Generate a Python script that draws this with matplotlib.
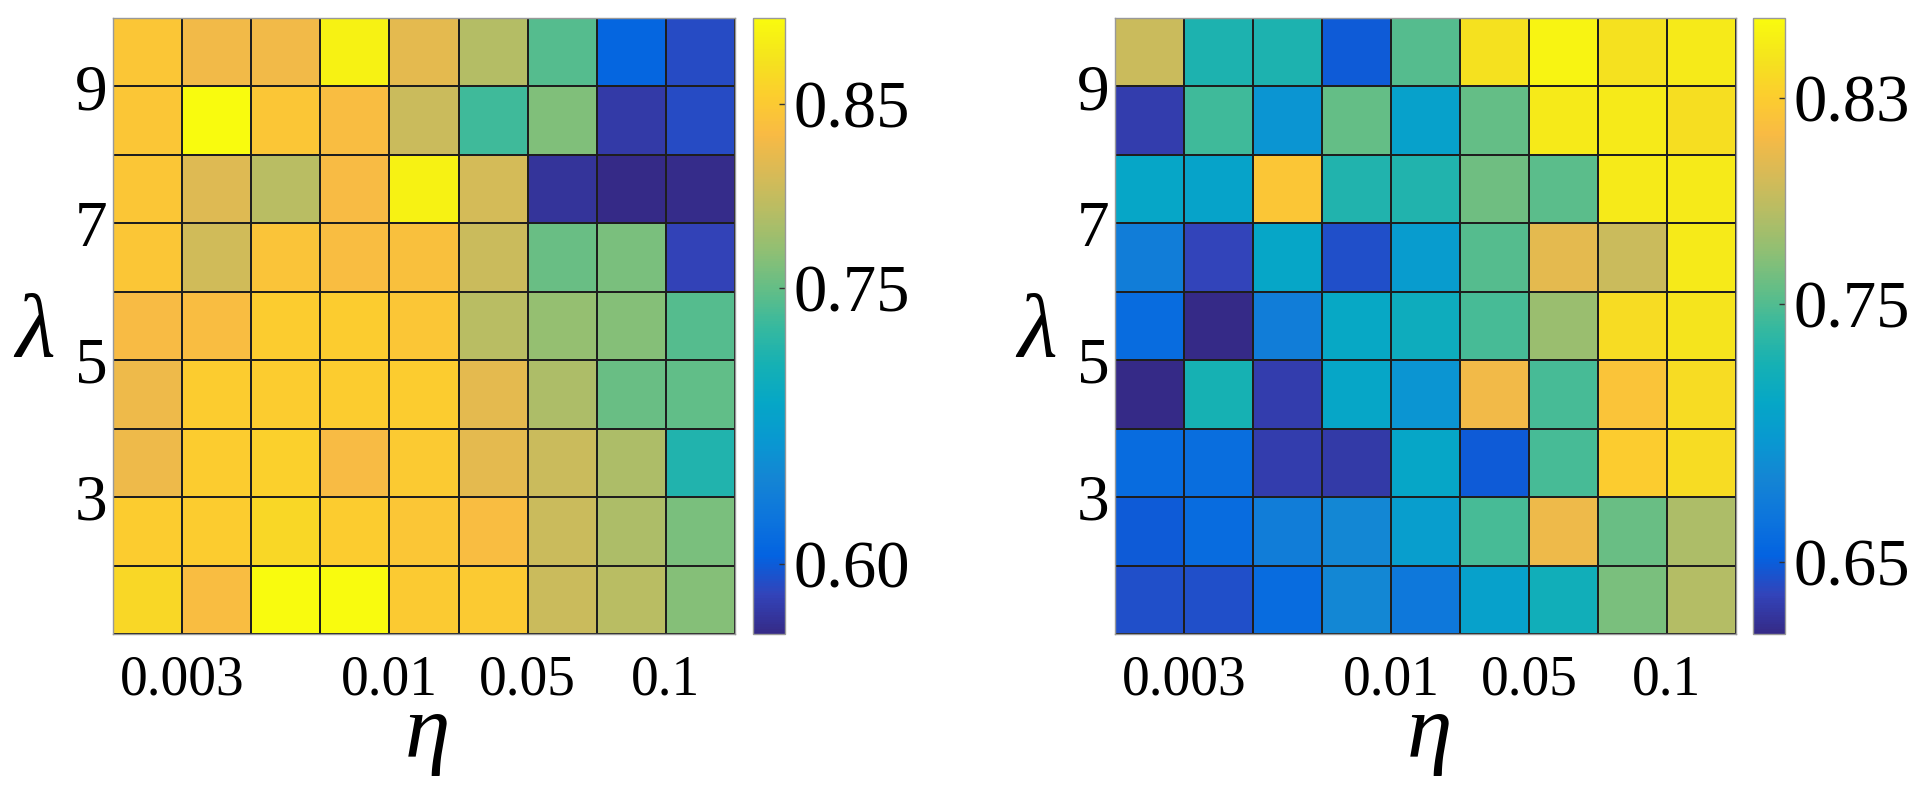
import numpy as np
import matplotlib
matplotlib.use("Agg")
import matplotlib.pyplot as plt
from matplotlib.colors import LinearSegmentedColormap

# grid edges (pcolor style: 10 vertices -> 9x9 cells)
x_edges = np.arange(1, 11)
y_edges = np.arange(1, 11)
x_ticks = [2, 5, 7, 9]
x_ticklabels = ["0.003", "0.01", "0.05", "0.1"]
y_ticks = [3, 5, 7, 9]

# left panel, rows listed top (lambda 9..10) to bottom (lambda 1..2)
left_vals = [
    [0.847, 0.830, 0.830, 0.888, 0.820, 0.790, 0.743, 0.609, 0.589],
    [0.847, 0.897, 0.847, 0.836, 0.803, 0.733, 0.763, 0.576, 0.589],
    [0.847, 0.816, 0.793, 0.833, 0.888, 0.810, 0.571, 0.562, 0.564],
    [0.847, 0.807, 0.844, 0.836, 0.840, 0.803, 0.753, 0.760, 0.582],
    [0.833, 0.836, 0.853, 0.853, 0.847, 0.793, 0.773, 0.766, 0.743],
    [0.827, 0.853, 0.853, 0.853, 0.853, 0.820, 0.786, 0.753, 0.749],
    [0.827, 0.853, 0.857, 0.833, 0.850, 0.820, 0.803, 0.786, 0.716],
    [0.853, 0.853, 0.864, 0.853, 0.847, 0.836, 0.803, 0.786, 0.760],
    [0.864, 0.836, 0.897, 0.897, 0.850, 0.850, 0.803, 0.793, 0.766],
]
left_clim = (0.562, 0.897)
left_cticks = [0.60, 0.75, 0.85]

# right panel
right_vals = [
    [0.794, 0.730, 0.730, 0.649, 0.751, 0.844, 0.856, 0.844, 0.849],
    [0.634, 0.744, 0.694, 0.756, 0.706, 0.756, 0.849, 0.849, 0.842],
    [0.711, 0.708, 0.825, 0.732, 0.732, 0.760, 0.753, 0.849, 0.849],
    [0.675, 0.637, 0.711, 0.643, 0.701, 0.751, 0.806, 0.794, 0.849],
    [0.660, 0.622, 0.675, 0.713, 0.720, 0.747, 0.775, 0.840, 0.846],
    [0.622, 0.727, 0.634, 0.711, 0.694, 0.813, 0.747, 0.823, 0.840],
    [0.660, 0.662, 0.634, 0.632, 0.711, 0.649, 0.747, 0.830, 0.840],
    [0.649, 0.660, 0.675, 0.684, 0.703, 0.747, 0.811, 0.758, 0.782],
    [0.643, 0.643, 0.660, 0.684, 0.670, 0.706, 0.722, 0.763, 0.785],
]
right_clim = (0.622, 0.861)
right_cticks = [0.65, 0.75, 0.83]

# MATLAB parula, sampled
parula_pts = [
    (0.2081, 0.1663, 0.5292), (0.1959, 0.2645, 0.7279), (0.0117, 0.3875, 0.8820),
    (0.0498, 0.4586, 0.8641), (0.0793, 0.5200, 0.8312), (0.0343, 0.5966, 0.8199),
    (0.0228, 0.6535, 0.7768), (0.0843, 0.6928, 0.7062), (0.2178, 0.7250, 0.6193),
    (0.3953, 0.7459, 0.5244), (0.5709, 0.7485, 0.4494), (0.7184, 0.7411, 0.3905),
    (0.8507, 0.7299, 0.3360), (0.9739, 0.7314, 0.2666), (0.9880, 0.8066, 0.1794),
    (0.9589, 0.8949, 0.1132), (0.9763, 0.9831, 0.0538),
]
parula = LinearSegmentedColormap.from_list("parula", parula_pts)

SERIF = ["Liberation Serif", "DejaVu Serif"]

fig = plt.figure(figsize=(19.2, 7.92), dpi=100)


def draw_panel(ax_rect, cb_rect, vals, clim, cticks):
    ax = fig.add_axes(ax_rect)
    data = np.flipud(np.array(vals))
    mesh = ax.pcolormesh(x_edges, y_edges, data, cmap=parula,
                         vmin=clim[0], vmax=clim[1],
                         edgecolors="#1e1e1e", linewidth=1.3)
    ax.set_xlim(1, 10)
    ax.set_ylim(1, 10)
    ax.set_xticks(x_ticks)
    ax.set_xticklabels(x_ticklabels, family=SERIF, fontsize=40)
    ax.set_yticks(y_ticks)
    ax.set_yticklabels([str(t) for t in y_ticks], family=SERIF, fontsize=47)
    ax.tick_params(axis="x", length=0, pad=15)
    ax.tick_params(axis="y", length=0, pad=4)
    for s in ax.spines.values():
        s.set_color("#999999")
        s.set_linewidth(1)

    ax.set_xlabel("η", family=SERIF, style="italic", fontsize=66)
    ax.xaxis.set_label_coords(0.506, -0.20)
    ax.xaxis.label.set_va("baseline")
    ax.set_ylabel("λ", family=SERIF, style="italic", fontsize=66, rotation=0)
    ax.yaxis.set_label_coords(-0.125, 0.45)
    ax.yaxis.label.set_va("baseline")
    ax.yaxis.label.set_ha("center")

    cax = fig.add_axes(cb_rect)
    cb = fig.colorbar(mesh, cax=cax, ticks=cticks)
    cb.ax.set_yticklabels([f"{t:.2f}" for t in cticks], family=SERIF, fontsize=48)
    cb.ax.tick_params(direction="in", length=4, width=1, color="#333333", pad=6)
    cb.outline.set_edgecolor("#999999")
    cb.outline.set_linewidth(1)
    return ax


H = 792.0
W = 1920.0
bottom = (H - 634) / H
height = 616 / H
draw_panel([113 / W, bottom, 622 / W, height], [753 / W, bottom, 32 / W, height],
           left_vals, left_clim, left_cticks)
draw_panel([1115 / W, bottom, 621 / W, height], [1753 / W, bottom, 32 / W, height],
           right_vals, right_clim, right_cticks)

fig.savefig("out.png", dpi=100)
